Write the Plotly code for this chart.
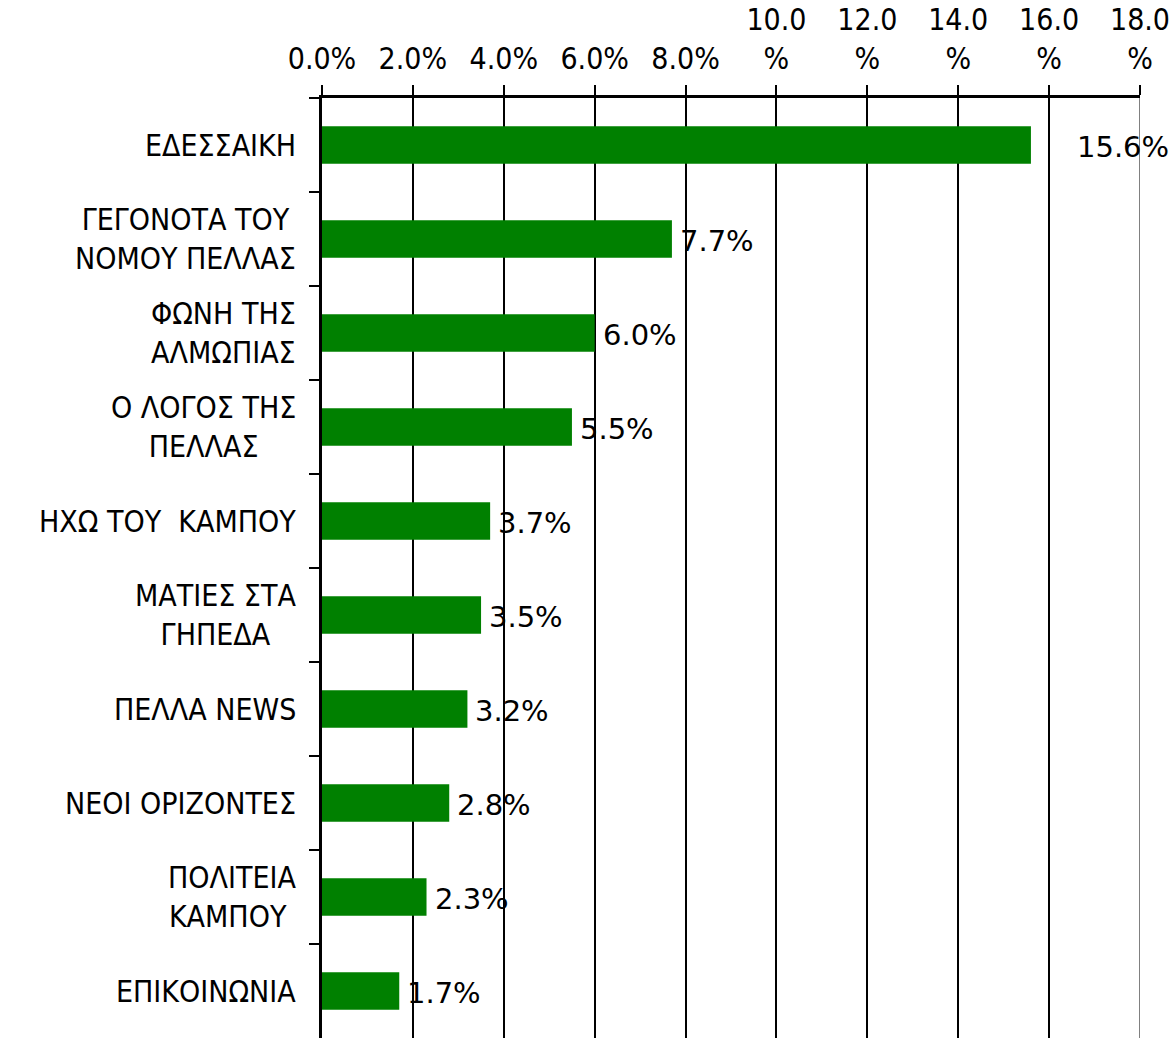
import plotly.graph_objects as go

categories = ["ΕΔΕΣΣΑΙΚΗ", "ΓΕΓΟΝΟΤΑ ΤΟΥ<br>ΝΟΜΟΥ ΠΕΛΛΑΣ", "ΦΩΝΗ ΤΗΣ<br>ΑΛΜΩΠΙΑΣ",
              "Ο ΛΟΓΟΣ ΤΗΣ<br>ΠΕΛΛΑΣ", "ΗΧΩ ΤΟΥ  ΚΑΜΠΟΥ", "ΜΑΤΙΕΣ ΣΤΑ<br>ΓΗΠΕΔΑ",
              "ΠΕΛΛΑ NEWS", "ΝΕΟΙ ΟΡΙΖΟΝΤΕΣ", "ΠΟΛΙΤΕΙΑ<br>ΚΑΜΠΟΥ ", "ΕΠΙΚΟΙΝΩΝΙΑ"]
values = [15.6, 7.7, 6.0, 5.5, 3.7, 3.5, 3.2, 2.8, 2.3, 1.7]
tick_vals = [0, 2, 4, 6, 8, 10, 12, 14, 16, 18]
tick_text = ["0.0%", "2.0%", "4.0%", "6.0%", "8.0%",
             "10.0<br>%", "12.0<br>%", "14.0<br>%", "16.0<br>%", "18.0<br>%"]
label_shift = [44, 6, 6, 6, 6, 6, 6, 6, 6, 6]

FONT = "DejaVu Sans Condensed, DejaVu Sans, sans-serif"
LABEL_FONT = "DejaVu Sans, sans-serif"
FS = 30

fig = go.Figure()
fig.add_trace(go.Bar(
    x=values, y=categories, orientation="h",
    marker=dict(color="#008000", line=dict(width=0)),
    width=0.4, hoverinfo="skip",
))
for v, c, s in zip(values, categories, label_shift):
    fig.add_annotation(x=v, y=c, text=f"{v:.1f}%", showarrow=False,
                       xanchor="left", xshift=s, yshift=-2,
                       font=dict(family=LABEL_FONT, size=29, color="black"))
# category labels (wrapped lines centred on each other, block right-aligned)
for c in categories:
    fig.add_annotation(x=0, xref="paper", y=c, yref="y", text=c, showarrow=False,
                       xanchor="right", align="center", xshift=-24,
                       font=dict(family=FONT, size=FS, color="black"))

fig.add_shape(type="line", xref="x", yref="paper", x0=18, x1=18, y0=0, y1=1,
              line=dict(color="#808080", width=2), layer="above")

fig.update_layout(
    width=1174, height=1038,
    margin=dict(l=322, r=34, t=98, b=0, autoexpand=False),
    plot_bgcolor="white", paper_bgcolor="white",
    showlegend=False,
    font=dict(family=FONT, size=FS, color="black"),
    xaxis=dict(
        side="top", range=[0, 18], tickvals=tick_vals, ticktext=tick_text,
        showgrid=True, gridcolor="black", gridwidth=2,
        showline=True, linecolor="black", linewidth=3,
        ticks="outside", ticklen=10, tickwidth=2, tickcolor="black",
        zeroline=False, fixedrange=True, ticklabelstandoff=4,
        tickfont=dict(family=FONT, size=FS),
    ),
    yaxis=dict(
        autorange="reversed", categoryorder="array", categoryarray=categories,
        showline=True, linecolor="black", linewidth=3,
        ticks="outside", ticklen=10, tickwidth=2, tickcolor="black",
        tickson="boundaries", showgrid=False, zeroline=False,
        showticklabels=False, fixedrange=True,
    ),
)

fig.write_html("out.html", config={"displayModeBar": False},
               post_script="document.body.style.margin='0';document.body.style.overflow='hidden';")
